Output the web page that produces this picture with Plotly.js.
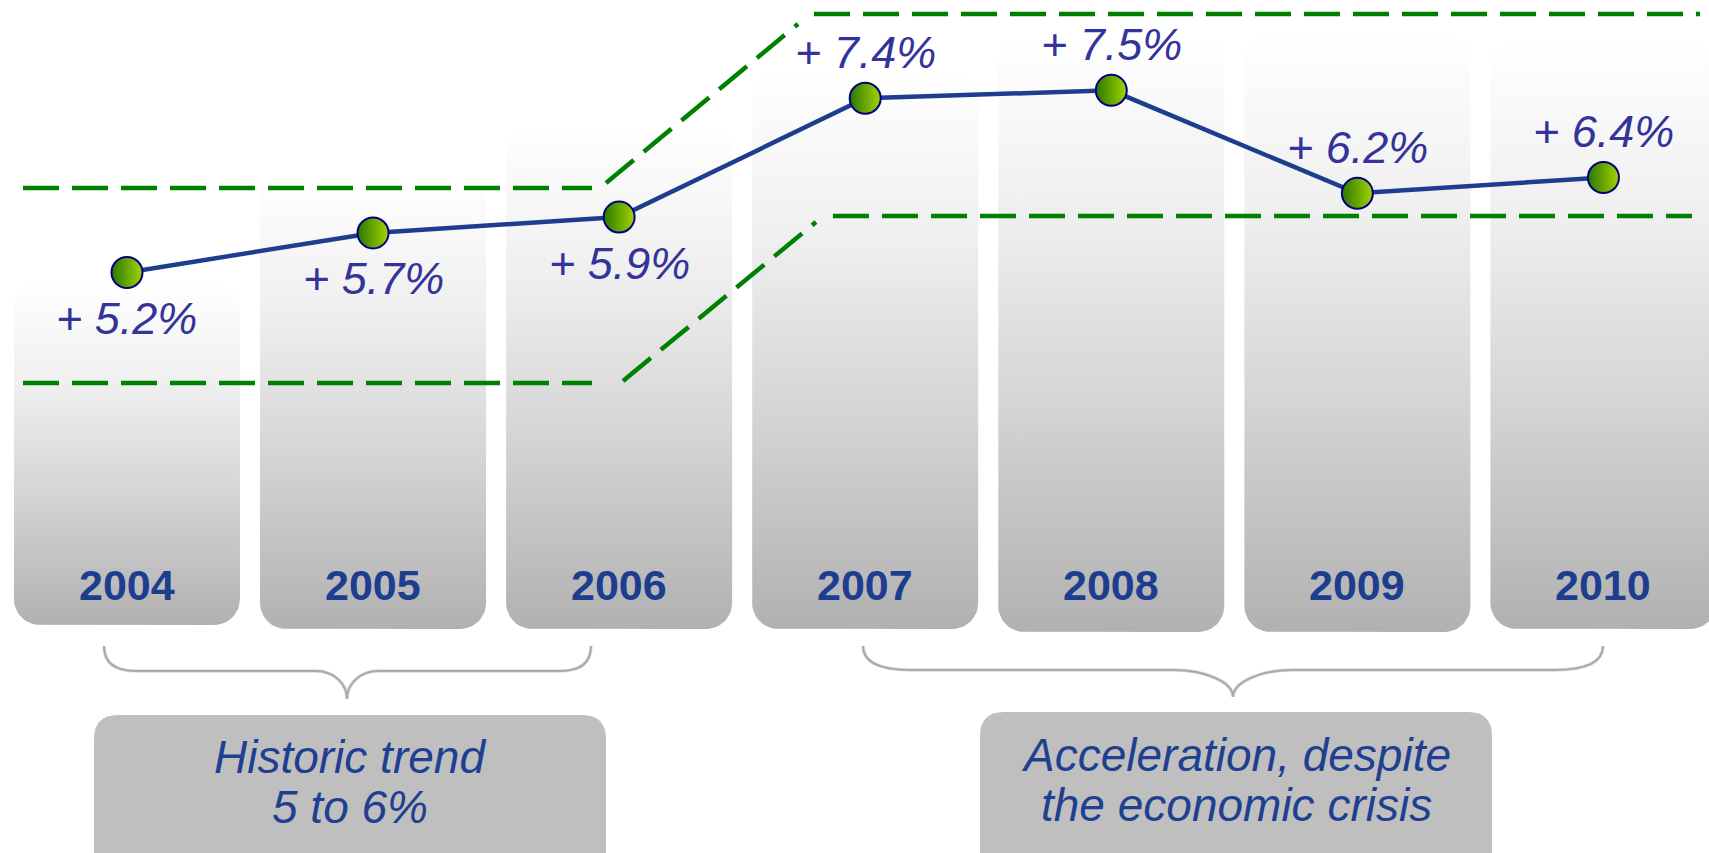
<!DOCTYPE html>
<html>
<head>
<meta charset="utf-8">
<script src="https://cdn.plot.ly/plotly-3.0.1.min.js"></script>
<style>
  html, body { margin: 0; padding: 0; background: #ffffff; overflow: hidden; }
  #chart { width: 1709px; height: 853px; }
</style>
</head>
<body>
<div id="chart"></div>
<script>
// Annual growth, 2004-2010
const years = [2004, 2005, 2006, 2007, 2008, 2009, 2010];
const growth = [5.2, 5.7, 5.9, 7.4, 7.5, 6.2, 6.4];
const yearLabels = ['2004', '2005', '2006', '2007', '2008', '2009', '2010'];

// Which side of the point each value label sits on
const labelSide = ['below', 'below', 'below', 'above', 'above', 'above', 'above'];

// Period captions under the braces
const periodCaptions = [
  ['Historic trend', '5 to 6%'],
  ['Acceleration, despite', 'the economic crisis']
];

// ---- page geometry (pixels) ----
const W = 1709, H = 853;
const yearRange = [2003.484, 2010.429];
const valueRange = [-2.129, 8.641];
const columnTop = [282, 175, 123, 72, 35, 33, 40];
const columnBottom = [625, 629, 629, 629, 632, 632, 629];
const columnHalfWidth = 113;
const columnRadius = 26;

const navy = '#1d3d8f';
const labelColor = '#333399';
const dashGreen = '#008000';
const font = 'Liberation Sans, Arial, sans-serif';

function yearToPx(yr) {
  return (yr - yearRange[0]) / (yearRange[1] - yearRange[0]) * W;
}

// Rounded rectangle outline as a polyline (pixel space, y downwards)
function roundedRect(x0, x1, y0, y1, r) {
  const xs = [], ys = [];
  const corners = [
    [x0 + r, y0 + r, Math.PI, 1.5 * Math.PI],
    [x1 - r, y0 + r, 1.5 * Math.PI, 2 * Math.PI],
    [x1 - r, y1 - r, 0, 0.5 * Math.PI],
    [x0 + r, y1 - r, 0.5 * Math.PI, Math.PI]
  ];
  corners.forEach(([cx, cy, a0, a1]) => {
    const n = 12;
    for (let i = 0; i <= n; i++) {
      const t = a0 + (a1 - a0) * i / n;
      xs.push(cx + r * Math.cos(t));
      ys.push(cy + r * Math.sin(t));
    }
  });
  xs.push(xs[0]); ys.push(ys[0]);
  return { xs, ys };
}

// Rounded rectangle as a shape path using quadratic corners
function roundedPath(x0, x1, y0, y1, r) {
  return `M${x0 + r},${y0} L${x1 - r},${y0} Q${x1},${y0} ${x1},${y0 + r} ` +
         `L${x1},${y1 - r} Q${x1},${y1} ${x1 - r},${y1} L${x0 + r},${y1} ` +
         `Q${x0},${y1} ${x0},${y1 - r} L${x0},${y0 + r} Q${x0},${y0} ${x0 + r},${y0} Z`;
}

const traces = [];

// Gradient columns, one per year
years.forEach((yr, i) => {
  const cx = yearToPx(yr);
  const rr = roundedRect(cx - columnHalfWidth, cx + columnHalfWidth,
                         columnTop[i], columnBottom[i], columnRadius);
  traces.push({
    type: 'scatter', mode: 'lines', xaxis: 'x', yaxis: 'y',
    x: rr.xs, y: rr.ys,
    fill: 'toself',
    fillgradient: {
      type: 'vertical',
      start: columnTop[i], stop: columnBottom[i],
      colorscale: [[0, '#ffffff'], [0.3, '#efefef'], [0.6, '#d6d6d6'], [1, '#b1b1b1']]
    },
    line: { width: 0, color: 'rgba(0,0,0,0)' },
    hoverinfo: 'skip', showlegend: false
  });
});

// Growth line with gradient-filled markers
traces.push({
  type: 'scatter', mode: 'lines+markers', xaxis: 'x2', yaxis: 'y2',
  x: years, y: growth,
  line: { color: navy, width: 4.5 },
  marker: {
    size: 31, color: '#2a7800',
    gradient: { type: 'horizontal', color: '#a4d400' },
    line: { color: '#000080', width: 2 }
  },
  hoverinfo: 'skip', showlegend: false
});

const annotations = [];

// Value labels
years.forEach((yr, i) => {
  annotations.push({
    xref: 'x2', yref: 'y2', x: yr, y: growth[i],
    text: '+ ' + growth[i].toFixed(1) + '%',
    showarrow: false, xanchor: 'center', yanchor: 'middle',
    yshift: labelSide[i] === 'above' ? 46 : -46,
    font: { family: font, size: 45, color: labelColor, style: 'italic' }
  });
});

// Year labels at the foot of each column
years.forEach((yr, i) => {
  annotations.push({
    xref: 'x2', yref: 'y', x: yr, y: 585,
    text: yearLabels[i],
    showarrow: false, xanchor: 'center', yanchor: 'middle',
    font: { family: font, size: 43, color: navy, weight: 'bold' }
  });
});

// Caption boxes
const boxes = [
  { x0: 94, x1: 606, top: 715, lineY: [757, 807] },
  { x0: 980, x1: 1492, top: 712, lineY: [754.5, 805] }
];
boxes.forEach((b, k) => {
  periodCaptions[k].forEach((line, j) => {
    annotations.push({
      xref: 'x', yref: 'y', x: (b.x0 + b.x1) / 2, y: b.lineY[j],
      text: line, showarrow: false, xanchor: 'center', yanchor: 'middle',
      font: { family: font, size: 46, color: '#1f3f91', style: 'italic' }
    });
  });
});

const shapes = [];

// Caption box backgrounds
boxes.forEach(b => {
  shapes.push({
    type: 'path', xref: 'x', yref: 'y', layer: 'below',
    path: roundedPath(b.x0, b.x1, b.top, 900, 24),
    fillcolor: '#bfbfbf', line: { width: 0 }
  });
});

// Curly braces grouping the periods (with a soft shadow)
const braces = [
  'M104,646 C104,662 114,671 136,671 L316,671 C334,671 347,684 347,699 ' +
  'C347,684 360,671 378,671 L560,671 C582,671 591,662 591,646',
  'M863,646 C863,662 880,670 911,670 L1174,670 C1205,670 1233,682 1233,697 ' +
  'C1233,682 1261,670 1292,670 L1554,670 C1586,670 1603,662 1603,646'
];
braces.forEach(p => {
  shapes.push({
    type: 'path', xref: 'x', yref: 'y', layer: 'below', path: p,
    line: { color: '#dcdcdc', width: 3.5 }
  });
});
braces.forEach(p => {
  shapes.push({
    type: 'path', xref: 'x', yref: 'y', layer: 'below', path: p,
    line: { color: '#a9a9a9', width: 2 }
  });
});

// Dashed trend corridor
const corridor = [
  [23, 188, 592, 188], [606, 183, 798, 24], [814, 14, 1700, 14],
  [23, 383, 592, 383], [623, 381, 816, 222], [833, 216, 1692, 216]
];
corridor.forEach(([x0, y0, x1, y1]) => {
  shapes.push({
    type: 'line', xref: 'x', yref: 'y', layer: 'above',
    x0, y0, x1, y1,
    line: { color: dashGreen, width: 4.5, dash: '36px,13px' }
  });
});

const layout = {
  width: W, height: H,
  margin: { l: 0, r: 0, t: 0, b: 0, pad: 0 },
  paper_bgcolor: '#ffffff', plot_bgcolor: '#ffffff',
  showlegend: false,
  xaxis: { range: [0, W], visible: false, fixedrange: true },
  yaxis: { range: [H, 0], visible: false, fixedrange: true },
  xaxis2: { range: yearRange, overlaying: 'x', visible: false, fixedrange: true },
  yaxis2: { range: valueRange, overlaying: 'y', visible: false, fixedrange: true },
  annotations, shapes
};

Plotly.newPlot('chart', traces, layout, { staticPlot: true, displayModeBar: false });
</script>
</body>
</html>
